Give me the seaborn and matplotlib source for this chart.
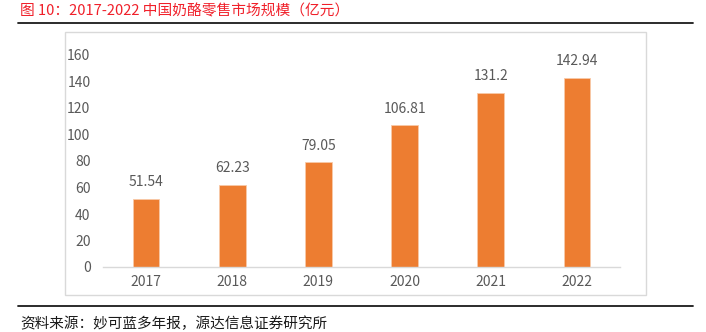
import matplotlib
matplotlib.use("Agg")
import matplotlib.pyplot as plt
import seaborn as sns
import pandas as pd
from matplotlib.patches import Rectangle
from matplotlib.lines import Line2D

years = ["2017", "2018", "2019", "2020", "2021", "2022"]
sales = [51.54, 62.23, 79.05, 106.81, 131.2, 142.94]
value_labels = ["51.54", "62.23", "79.05", "106.81", "131.2", "142.94"]
y_ticks = [0, 20, 40, 60, 80, 100, 120, 140, 160]

title_text = "图 10：2017-2022 中国奶酪零售市场规模（亿元）"
source_text = "资料来源：妙可蓝多年报，源达信息证券研究所"

sns.set_style("white")
plt.rcParams["font.family"] = ["Noto Sans CJK SC", "DejaVu Sans"]

W, H = 706, 332
fig = plt.figure(figsize=(W / 100, H / 100), dpi=100)


def fx(px):
    return px / W


def fy(py):
    return 1 - py / H


# light frame around the chart
fig.patches.append(Rectangle((fx(65), fy(295)), fx(646) - fx(65), fy(32) - fy(295),
                             transform=fig.transFigure, fill=False,
                             edgecolor="#D9D9D9", linewidth=1.0))
# rules under the title and above the source line
fig.lines.append(Line2D([fx(18), fx(693)], [fy(22.5), fy(22.5)],
                        transform=fig.transFigure, color="#1a1a1a", linewidth=1.3))
fig.lines.append(Line2D([fx(18), fx(693)], [fy(306), fy(306)],
                        transform=fig.transFigure, color="#1a1a1a", linewidth=1.3))

fig.text(fx(20), fy(11.5), title_text, color="#F0202A", fontsize=10.6,
         ha="left", va="center")
fig.text(fx(20), fy(324), source_text, color="#1a1a1a", fontsize=10.5,
         ha="left", va="center")

ax = fig.add_axes([fx(103), fy(267), fx(620) - fx(103), fy(55) - fy(267)])
df = pd.DataFrame({"year": years, "sales": sales})
sns.barplot(data=df, x="year", y="sales", ax=ax, color="#ED7D31",
            width=0.31, edgecolor="#F8C9A8", linewidth=0.6, saturation=1)

ax.set_xlim(-0.5, len(years) - 0.5)
ax.set_ylim(0, 160)
ax.set_yticks(y_ticks)
ax.set_yticklabels([str(t) for t in y_ticks])
ax.set_xlabel("")
ax.set_ylabel("")
for s in ["top", "right", "left"]:
    ax.spines[s].set_visible(False)
ax.spines["bottom"].set_color("#D9D9D9")
ax.spines["bottom"].set_linewidth(1.0)
ax.tick_params(axis="both", length=0, colors="#595959", labelsize=10)
ax.tick_params(axis="y", pad=9)
ax.tick_params(axis="x", pad=6)

# value labels above each bar
for i, (v, lab) in enumerate(zip(sales, value_labels)):
    ax.annotate(lab, (i, v), xytext=(0, 12), textcoords="offset points",
                ha="center", va="center", color="#595959", fontsize=10)

fig.savefig("out.png", dpi=100)
